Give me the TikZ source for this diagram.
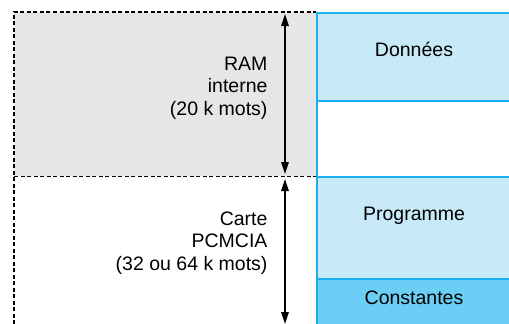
\documentclass[tikz,border=0pt]{standalone}
\usepackage{fontspec}
\setmainfont{Liberation Sans}
\usetikzlibrary{arrows.meta, positioning}
\definecolor{grisram}{HTML}{E6E6E6}
\definecolor{bleuclair}{HTML}{C7E9F8}
\definecolor{bleufonce}{HTML}{6BCFF5}
\definecolor{traitbleu}{HTML}{1AB0EC}
\tikzset{
  zone/.style={rectangle, anchor=north west, inner sep=0pt, minimum width=200pt,
    draw=traitbleu, line width=1.5pt},
  texte/.style={font=\fontsize{19.5}{22.5}\selectfont},
  legende/.style={texte, align=right, anchor=east},
  fleche/.style={line width=1.5pt, {Triangle[length=12pt,width=7.5pt]}-{Triangle[length=12pt,width=7.5pt]}},
  pointille/.style={dash pattern=on 4pt off 2.5pt, line width=1.5pt}
}

\begin{document}
\begin{tikzpicture}[x=1pt, y=-1pt]
    \useasboundingbox (0,0) rectangle (509,324);

    % memoire interne
    \node (ram) [rectangle, fill=grisram, anchor=north west, inner sep=0pt,
        minimum width=302pt, minimum height=164pt] at (14,12) {};
    \coordinate (basgauche) at (14,324);
    \draw [pointille] (basgauche) -- (ram.north west) -- (ram.north east);
    \draw [pointille] (ram.south west) -- (ram.south east);

    % colonne de droite
    \node (donnees)    [zone, fill=bleuclair, minimum height=88pt]  at (316,12)  {};
    \node (libre)      [zone, fill=white, minimum height=76pt]      at (316,100) {};
    \node (programme)  [zone, fill=bleuclair, minimum height=102pt] at (316,176) {};
    \node (constantes) [zone, fill=bleufonce, minimum height=60pt]  at (316,278) {};

    \node (tdonnees)    [texte] at (414,49)  {Données};
    \node (tprogramme)  [texte] at (414,216) {Programme};
    \node (tconstantes) [texte] at (414,298) {Constantes};

    % tailles
    \coordinate (ramhaut)   at (285,14);
    \coordinate (rambas)    at (285,174);
    \coordinate (cartehaut) at (285,179);
    \coordinate (cartebas)  at (285,324);
    \draw [fleche] (ramhaut) -- (rambas);
    \draw [fleche] (cartehaut) -- (cartebas);

    \node (lram)   [legende] at (271,88)  {RAM\\interne\\(20 k mots)};
    \node (lcarte) [legende] at (271,243) {Carte\\PCMCIA\\(32 ou 64 k mots)};
\end{tikzpicture}
\end{document}
